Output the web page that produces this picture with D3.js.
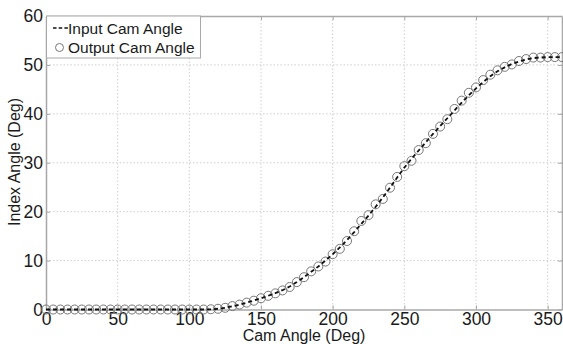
<!DOCTYPE html>
<html>
<head>
<meta charset="utf-8">
<script src="https://cdn.jsdelivr.net/npm/d3@7"></script>
<style>
  body { margin: 0; background: #fff; }
  svg { display: block; font-family: "Liberation Sans", Arial, sans-serif; }
</style>
</head>
<body>
<svg id="chart" width="563" height="344"></svg>
<script>
// cam angle samples, every 5 deg
var camAngle = d3.range(0, 361, 5);
var inputAngle = [0, 0, 0, 0, 0, 0, 0, 0, 0, 0, 0, 0, 0, 0, 0, 0, 0, 0, 0, 0, 0, 0, 0,
  0.05, 0.15, 0.35, 0.65, 1.0, 1.4, 1.85, 2.3, 2.8, 3.35, 3.95, 4.7, 5.6, 6.6, 7.7, 8.8, 10.0,
  11.3, 12.7, 14.2, 15.8, 17.5, 19.2, 21.0, 22.9, 24.9, 27.0, 29.0, 30.8, 32.5, 34.2, 35.9,
  37.5, 39.1, 40.7, 42.3, 43.8, 45.2, 46.5, 47.7, 48.7, 49.5, 50.2, 50.7, 51.1, 51.4, 51.5,
  51.6, 51.6, 51.6];
var outputAngle = [0, 0, 0, 0, 0, 0, 0, 0, 0, 0, 0, 0, 0, 0, 0, 0, 0, 0, 0, 0, 0, 0, 0,
  0.05, 0.15, 0.35, 0.7, 1.0, 1.4, 1.8, 2.3, 2.8, 3.3, 3.9, 4.6, 5.6, 6.6, 7.8, 8.8, 9.8,
  11.3, 12.4, 14.0, 16.0, 18.1, 19.3, 21.5, 22.6, 24.9, 27.1, 29.3, 30.4, 32.6, 34.0, 35.9,
  37.4, 38.9, 41.0, 42.7, 44.3, 45.4, 46.9, 48.0, 48.9, 49.6, 50.1, 50.8, 51.2, 51.5, 51.5,
  51.6, 51.6, 51.6];
var xTicks = [0, 50, 100, 150, 200, 250, 300, 350];
var yTicks = [0, 10, 20, 30, 40, 50, 60];
var legendLabels = ["Input Cam Angle", "Output Cam Angle"];

var pLeft = 46, pRight = 562, pTop = 16, pBottom = 309.5;
var svg = d3.select("#chart");
var x = d3.scaleLinear().domain([0, 360]).range([pLeft, pRight]);
var y = d3.scaleLinear().domain([0, 60]).range([pBottom, pTop]);
var textColor = "#1a1a1a", boxColor = "#a8a8a8", gridColor = "#cfcfcf";

// grid
svg.append("g").selectAll("line").data(xTicks.slice(1)).enter().append("line")
  .attr("x1", function (d) { return x(d) }).attr("x2", function (d) { return x(d) })
  .attr("y1", pTop).attr("y2", pBottom)
  .style("stroke", gridColor).style("stroke-width", 1).style("stroke-dasharray", "1.5,2");
svg.append("g").selectAll("line").data(yTicks.slice(1, -1)).enter().append("line")
  .attr("y1", function (d) { return y(d) }).attr("y2", function (d) { return y(d) })
  .attr("x1", pLeft).attr("x2", pRight)
  .style("stroke", gridColor).style("stroke-width", 1).style("stroke-dasharray", "1.5,2");

// axes (ticks inside, box style)
var xAxis = svg.append("g").attr("transform", "translate(0," + pBottom + ")")
  .call(d3.axisBottom(x).tickValues(xTicks).tickSize(-4).tickPadding(3).tickSizeOuter(0));
var yAxis = svg.append("g").attr("transform", "translate(" + pLeft + ",0)")
  .call(d3.axisLeft(y).tickValues(yTicks).tickSize(-4).tickPadding(3).tickSizeOuter(0));
svg.append("g").attr("transform", "translate(0," + pTop + ")")
  .call(d3.axisTop(x).tickValues(xTicks).tickSize(-4).tickFormat("").tickSizeOuter(0));
svg.append("g").attr("transform", "translate(" + pRight + ",0)")
  .call(d3.axisRight(y).tickValues(yTicks).tickSize(-4).tickFormat("").tickSizeOuter(0));
svg.selectAll(".domain").style("stroke", boxColor).style("stroke-width", 1.5);
svg.selectAll(".tick line").style("stroke", boxColor);
svg.selectAll(".tick text").style("font-size", "17.5px").style("fill", textColor)
  .style("font-family", "'Liberation Sans', Arial, sans-serif");

// axis titles
svg.append("text").attr("x", (pLeft + pRight) / 2).attr("y", 341).attr("text-anchor", "middle")
  .style("font-size", "16px").style("fill", textColor).text("Cam Angle (Deg)");
svg.append("text").attr("transform", "translate(20,162) rotate(-90)")
  .attr("text-anchor", "middle").style("font-size", "16px").style("fill", textColor)
  .text("Index Angle (Deg)");

// data
var plot = svg.append("g");
plot.selectAll("circle").data(camAngle).enter().append("circle")
  .attr("cx", function (d) { return x(d) })
  .attr("cy", function (d, i) { return y(outputAngle[i]) })
  .attr("r", 4.5)
  .style("fill", "none").style("stroke", "#777").style("stroke-width", 1);
var line = d3.line().x(function (d) { return x(d) }).y(function (d, i) { return y(inputAngle[i]) });
plot.append("path").datum(camAngle).attr("d", line)
  .style("fill", "none").style("stroke", "#111").style("stroke-width", 1.8)
  .style("stroke-dasharray", "4,3");

// legend
var lg = svg.append("g");
lg.append("rect").attr("x", 46.5).attr("y", 16).attr("width", 154).attr("height", 42)
  .style("fill", "#fff").style("stroke", boxColor).style("stroke-width", 1);
lg.append("line").attr("x1", 53).attr("x2", 68).attr("y1", 28).attr("y2", 28)
  .style("stroke", "#111").style("stroke-width", 1.5).style("stroke-dasharray", "3.5,2.2");
lg.append("circle").attr("cx", 59.5).attr("cy", 47.5).attr("r", 4)
  .style("fill", "none").style("stroke", "#777").style("stroke-width", 1);
lg.selectAll("text").data(legendLabels).enter().append("text")
  .attr("x", 68).attr("y", function (d, i) { return 33.5 + i * 19.5 })
  .style("font-size", "15.5px").style("fill", textColor).text(function (d) { return d });
</script>
</body>
</html>
